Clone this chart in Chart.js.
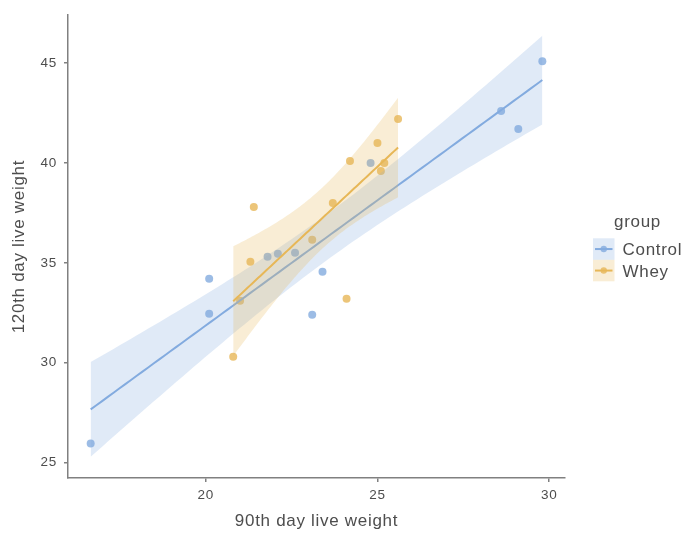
<!DOCTYPE html>
<html>
<head>
<meta charset="utf-8">
<title>120th vs 90th day live weight</title>
<script src="https://cdn.jsdelivr.net/npm/chart.js@4.4.1/dist/chart.umd.min.js"></script>
<style>
    html, body { margin: 0; padding: 0; background: #ffffff; }
    #wrap { width: 684px; height: 533px; position: relative; }
</style>
</head>
<body>
<div id="wrap"><canvas id="chart"></canvas></div>
<script>
// Data
const controlX = [16.65, 20.1, 20.1, 21.8, 22.1, 22.6, 23.1, 23.4, 24.8, 28.6, 29.1, 29.8];
const controlY = [25.95, 34.2, 32.45, 35.3, 35.45, 35.5, 32.4, 34.55, 40.0, 42.6, 41.7, 45.1];
const wheyX = [20.8, 21.0, 21.3, 21.4, 23.1, 23.7, 24.1, 24.2, 25.0, 25.1, 25.2, 25.6];
const wheyY = [30.3, 33.1, 35.05, 37.8, 36.15, 38.0, 33.2, 40.1, 41.0, 39.6, 40.0, 42.2];
const groups = ['Control', 'Whey'];
const xTicks = [20, 25, 30];
const yTicks = [25, 30, 35, 40, 45];

// 97.5% t quantiles for the 95% band (by degrees of freedom)
const tQuantile = { 9: 2.2622, 10: 2.2281, 11: 2.2010 };

const blue = '131, 171, 223';
const orange = '231, 183, 87';
const textColor = '#4d4d4d';
const axisColor = '#808080';
const fontFamily = "'Liberation Sans', Arial, Helvetica, sans-serif";

// Linear fit with confidence band, like geom_smooth(method = "lm")
function lmBand(xs, ys, steps) {
    const n = xs.length;
    const mx = xs.reduce((a, b) => a + b, 0) / n;
    const my = ys.reduce((a, b) => a + b, 0) / n;
    let sxx = 0, sxy = 0;
    xs.forEach((x, i) => { sxx += (x - mx) ** 2; sxy += (x - mx) * (ys[i] - my); });
    const slope = sxy / sxx;
    const icpt = my - slope * mx;
    let sse = 0;
    xs.forEach((x, i) => { sse += (ys[i] - (icpt + slope * x)) ** 2; });
    const s = Math.sqrt(sse / (n - 2));
    const t = tQuantile[n - 2];
    const lo = Math.min(...xs), hi = Math.max(...xs);
    const fit = [], upper = [], lower = [];
    for (let i = 0; i < steps; i++) {
        const x = lo + (hi - lo) * i / (steps - 1);
        const y = icpt + slope * x;
        const se = s * Math.sqrt(1 / n + (x - mx) ** 2 / sxx);
        fit.push({ x, y });
        upper.push({ x, y: y + t * se });
        lower.push({ x, y: y - t * se });
    }
    return { fit, upper, lower };
}

const controlBand = lmBand(controlX, controlY, 80);
const wheyBand = lmBand(wheyX, wheyY, 80);

const toPoints = (xs, ys) => xs.map((x, i) => ({ x, y: ys[i] }));

function lineSet(data, rgb, order) {
    return { data, showLine: true, borderColor: `rgb(${rgb})`, borderWidth: 2,
             pointRadius: 0, pointHoverRadius: 0, fill: false, order };
}
function bandSet(data, rgb, order, fill) {
    return { data, showLine: true, borderWidth: 0, borderColor: 'rgba(0,0,0,0)',
             backgroundColor: `rgba(${rgb}, 0.25)`, pointRadius: 0, pointHoverRadius: 0, fill, order };
}

// Legend drawn like ggplot's: ribbon key with line and point
const legendPlugin = {
    id: 'ggLegend',
    afterDraw(chart) {
        const ctx = chart.ctx;
        ctx.save();
        ctx.fillStyle = textColor;
        ctx.font = `17px ${fontFamily}`;
        ctx.textBaseline = 'alphabetic';
        ctx.fillText('group', 614, 227);
        const keyX = 593, keySize = 21.5, rowTop = [238.3, 259.8];
        const colors = [blue, orange];
        groups.forEach((g, i) => {
            const top = rowTop[i];
            const cy = top + keySize / 2;
            ctx.fillStyle = `rgba(${colors[i]}, 0.25)`;
            ctx.fillRect(keyX, top, keySize, keySize);
            ctx.strokeStyle = `rgb(${colors[i]})`;
            ctx.lineWidth = 2;
            ctx.beginPath();
            ctx.moveTo(keyX + 2, cy);
            ctx.lineTo(keyX + keySize - 2, cy);
            ctx.stroke();
            ctx.fillStyle = `rgba(${colors[i]}, 0.8)`;
            ctx.beginPath();
            ctx.arc(keyX + keySize / 2, cy, 3.2, 0, Math.PI * 2);
            ctx.fill();
            ctx.fillStyle = textColor;
            ctx.fillText(g, 622.5, top + 17);
        });
        ctx.restore();
    }
};

// small letter spacing to match the reference text width
const spacingPlugin = {
    id: 'spacing',
    beforeDraw(chart) { chart.ctx.letterSpacing = '0.7px'; }
};

new Chart(document.getElementById('chart'), {
    type: 'scatter',
    data: {
        datasets: [
            lineSet(wheyBand.fit, orange, 0),
            bandSet(wheyBand.upper, orange, 1, '+1'),
            bandSet(wheyBand.lower, orange, 1, false),
            lineSet(controlBand.fit, blue, 2),
            bandSet(controlBand.upper, blue, 3, '+1'),
            bandSet(controlBand.lower, blue, 3, false),
            { label: 'Control', data: toPoints(controlX, controlY), backgroundColor: `rgba(${blue}, 0.8)`,
              borderWidth: 0, pointRadius: 4, order: 4 },
            { label: 'Whey', data: toPoints(wheyX, wheyY), backgroundColor: `rgba(${orange}, 0.8)`,
              borderWidth: 0, pointRadius: 4, order: 4 }
        ]
    },
    options: {
        responsive: true,
        maintainAspectRatio: false,
        animation: false,
        layout: { padding: { top: 13, right: 119, left: 0, bottom: 0 } },
        plugins: { legend: { display: false }, tooltip: { enabled: false } },
        scales: {
            x: {
                type: 'linear', min: 15.99, max: 30.46,
                afterFit: s => { s.height = 55; },
                afterBuildTicks: s => { s.ticks = xTicks.map(v => ({ value: v })); },
                grid: { drawOnChartArea: false, drawTicks: true, tickLength: 4, color: axisColor, lineWidth: 1.5 },
                border: { color: axisColor, width: 1.5 },
                ticks: { color: textColor, padding: 5, font: { family: fontFamily, size: 13.5 } },
                title: { display: true, text: '90th day live weight', color: textColor,
                         font: { family: fontFamily, size: 17 }, padding: { top: 0, bottom: 1 } }
            },
            y: {
                type: 'linear', min: 24.22, max: 47.41,
                afterFit: s => { s.width = 68; },
                afterBuildTicks: s => { s.ticks = yTicks.map(v => ({ value: v })); },
                grid: { drawOnChartArea: false, drawTicks: true, tickLength: 4, color: axisColor, lineWidth: 1.5 },
                border: { color: axisColor, width: 1.5 },
                ticks: { color: textColor, padding: 7, font: { family: fontFamily, size: 13.5 } },
                title: { display: true, text: '120th day live weight', color: textColor,
                         font: { family: fontFamily, size: 17 }, padding: { top: 9, bottom: 0 } }
            }
        }
    },
    plugins: [spacingPlugin, legendPlugin]
});
</script>
</body>
</html>
